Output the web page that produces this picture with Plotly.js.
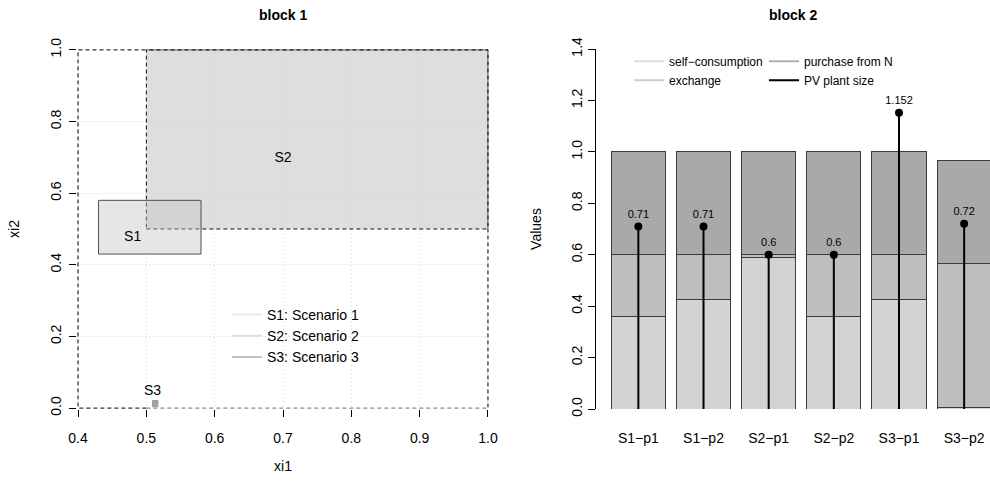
<!DOCTYPE html>
<html>
<head>
<meta charset="utf-8">
<script src="https://cdn.plot.ly/plotly-3.0.1.min.js"></script>
<style>
html,body{margin:0;padding:0;background:#fff;overflow:hidden;}
#chart{width:990px;height:482px;}
</style>
</head>
<body>
<div id="chart"></div>
<script>
// ---------- block 1 data ----------
const scenarioNames = ['S1', 'S2', 'S3'];
const scenarioLegend = ['S1: Scenario 1', 'S2: Scenario 2', 'S3: Scenario 3'];
const rectX0 = [0.43, 0.50, 0.509];
const rectX1 = [0.58, 1.00, 0.517];
const rectY0 = [0.43, 0.50, 0.004];
const rectY1 = [0.58, 1.00, 0.021];
const labelX = [0.48, 0.70, 0.509];
const labelY = [0.477, 0.696, 0.047];
const domainX = [0.4, 1.0];
const domainY = [0.0, 1.0];
const xTicks1 = [0.4, 0.5, 0.6, 0.7, 0.8, 0.9, 1.0];
const yTicks1 = [0.0, 0.2, 0.4, 0.6, 0.8, 1.0];

// ---------- block 2 data ----------
const barLabels = ['S1\u2212p1', 'S1\u2212p2', 'S2\u2212p1', 'S2\u2212p2', 'S3\u2212p1', 'S3\u2212p2'];
const selfConsumption = [0.36, 0.425, 0.59, 0.36, 0.425, 0.005];
const exchange = [0.24, 0.175, 0.01, 0.24, 0.175, 0.562];
const purchaseFromN = [0.40, 0.40, 0.40, 0.40, 0.40, 0.398];
const pvPlantSize = [0.71, 0.71, 0.6, 0.6, 1.152, 0.72];
const yTicks2 = [0.0, 0.2, 0.4, 0.6, 0.8, 1.0, 1.2, 1.4];

// styles
const FONT = 'Liberation Sans, Arial, Helvetica, sans-serif';
const fillS = ['rgba(196,196,196,0.42)', 'rgba(200,200,200,0.6)', '#a5a5a5'];
const lineS = ['#505050', '#111111', '#9a9a9a'];
const dashS = ['solid', '4px,3px', 'solid'];
const legColS = ['#ebebeb', '#e0e0e0', '#c2c2c2'];
const segColors = ['#d3d3d3', '#bebebe', '#a9a9a9'];
const legSegColors = ['#e0e0e0', '#cdcdcd', '#b0b0b0'];

const traces = [];

// rectangles (draw S2 first, then S1, then S3)
[1, 0, 2].forEach(i => {
  traces.push({
    type: 'scatter', mode: 'lines', xaxis: 'x', yaxis: 'y',
    x: [rectX0[i], rectX1[i], rectX1[i], rectX0[i], rectX0[i]],
    y: [rectY0[i], rectY0[i], rectY1[i], rectY1[i], rectY0[i]],
    fill: 'toself', fillcolor: fillS[i],
    line: {color: lineS[i], width: 1, dash: dashS[i]},
    showlegend: false, hoverinfo: 'skip'
  });
});

// dashed frame of the domain
traces.push({
  type: 'scatter', mode: 'lines', xaxis: 'x', yaxis: 'y',
  x: [rectX0[1], domainX[0], domainX[0], domainX[1], domainX[1]],
  y: [domainY[0], domainY[0], domainY[1], domainY[1], domainY[0]],
  line: {color: '#000000', width: 1, dash: '4px,3px'},
  showlegend: false, hoverinfo: 'skip'
});
traces.push({
  type: 'scatter', mode: 'lines', xaxis: 'x', yaxis: 'y',
  x: [rectX0[1], domainX[1]],
  y: [domainY[0], domainY[0]],
  line: {color: '#6e6e6e', width: 1, dash: '4px,3px'},
  showlegend: false, hoverinfo: 'skip'
});

// scenario labels
traces.push({
  type: 'scatter', mode: 'text', xaxis: 'x', yaxis: 'y',
  x: labelX, y: labelY, text: scenarioNames,
  textfont: {family: FONT, size: 14, color: '#000'},
  textposition: 'middle center', showlegend: false, hoverinfo: 'skip'
});

// block 1 legend entries
scenarioLegend.forEach((name, i) => {
  traces.push({
    type: 'scatter', mode: 'lines', xaxis: 'x', yaxis: 'y',
    x: [null], y: [null], name: name, legend: 'legend3',
    line: {color: legColS[i], width: 2}, showlegend: true
  });
});

// ---------- block 2 ----------
const barCenters = barLabels.map((_, i) => 0.7 + 1.2 * i);
[selfConsumption, exchange, purchaseFromN].forEach((vals, k) => {
  traces.push({
    type: 'bar', xaxis: 'x2', yaxis: 'y2',
    x: barCenters, y: vals, width: 1,
    marker: {color: segColors[k], line: {color: '#3c3c3c', width: 1}},
    showlegend: false, hoverinfo: 'skip'
  });
});

// stems
const stemX = [], stemY = [];
barCenters.forEach((c, i) => { stemX.push(c, c, null); stemY.push(0, pvPlantSize[i], null); });
traces.push({
  type: 'scatter', mode: 'lines', xaxis: 'x2', yaxis: 'y2',
  x: stemX, y: stemY, line: {color: '#000', width: 2},
  showlegend: false, hoverinfo: 'skip'
});
traces.push({
  type: 'scatter', mode: 'markers+text', xaxis: 'x2', yaxis: 'y2',
  x: barCenters, y: pvPlantSize, text: pvPlantSize.map(v => String(v)),
  textposition: 'top center',
  textfont: {family: FONT, size: 11, color: '#000'},
  marker: {color: '#000', size: 8},
  showlegend: false, hoverinfo: 'skip'
});

// block 2 legend entries (two columns)
const leg2Names = ['self\u2212consumption', 'exchange', 'purchase from N', 'PV plant size'];
const leg2Colors = [legSegColors[0], legSegColors[1], legSegColors[2], '#000000'];
const leg2Which = ['legend', 'legend', 'legend2', 'legend2'];
leg2Names.forEach((name, i) => {
  traces.push({
    type: 'scatter', mode: 'lines', xaxis: 'x2', yaxis: 'y2',
    x: [null], y: [null], name: name, legend: leg2Which[i],
    line: {color: leg2Colors[i], width: 2}, showlegend: true
  });
});

const W = 990, H = 482, T = 49, B = 73;
const px = v => v / W;
const py = v => (H - B - v) / (H - T - B);

const axisCommon = {
  ticks: 'outside', ticklen: 7, tickwidth: 1, tickcolor: '#000',
  tickfont: {family: FONT, size: 14, color: '#000'},
  zeroline: false, automargin: false, fixedrange: true
};

const legendCommon = {
  xanchor: 'left', yanchor: 'middle', traceorder: 'normal',
  bgcolor: 'rgba(0,0,0,0)', borderwidth: 0, tracegroupgap: 0
};

const layout = {
  width: W, height: H,
  margin: {l: 0, r: 0, t: T, b: B, pad: 0},
  paper_bgcolor: '#fff', plot_bgcolor: '#fff',
  barmode: 'stack', bargap: 0,
  font: {family: FONT, size: 14, color: '#000'},
  showlegend: true,
  xaxis: Object.assign({}, axisCommon, {
    domain: [px(77), px(489)], range: [domainX[0] - 0.0015, domainX[1] + 0.0015], anchor: 'y',
    tickvals: xTicks1, tickformat: '.1f', ticklabelstandoff: 9,
    showgrid: true, gridcolor: '#d4d4d4', griddash: '1px,3px', gridwidth: 1,
    showline: false,
    title: {text: 'xi1', font: {family: FONT, size: 14}, standoff: 16}
  }),
  yaxis: Object.assign({}, axisCommon, {
    domain: [0, 1], range: [domainY[0] - 0.0025, domainY[1] + 0.0025], anchor: 'x',
    tickvals: yTicks1, tickformat: '.1f', tickangle: -90, ticklabelstandoff: 2,
    showgrid: true, gridcolor: '#d4d4d4', griddash: '1px,3px', gridwidth: 1,
    showline: false,
    title: {text: 'xi2', font: {family: FONT, size: 14}, standoff: 25}
  }),
  xaxis2: Object.assign({}, axisCommon, {
    domain: [px(596), 1], range: [-0.08, 7.176], anchor: 'y2',
    tickvals: barCenters, ticktext: barLabels, ticks: '', ticklabelstandoff: 19,
    showgrid: false, showline: false
  }),
  yaxis2: Object.assign({}, axisCommon, {
    domain: [0, 1], range: [0, 1.4], anchor: 'x2',
    tickvals: yTicks2, tickformat: '.1f', tickangle: -90,
    showgrid: false, showline: true, linecolor: '#000', linewidth: 1,
    title: {text: 'Values', font: {family: FONT, size: 14}, standoff: 24}
  }),
  legend: Object.assign({}, legendCommon, {
    x: px(629), y: py(70.7),
    font: {family: FONT, size: 12, color: '#000'}
  }),
  legend2: Object.assign({}, legendCommon, {
    x: px(764), y: py(70.7),
    font: {family: FONT, size: 12, color: '#000'}
  }),
  legend3: Object.assign({}, legendCommon, {
    x: px(227), y: py(336),
    font: {family: FONT, size: 14, color: '#000'}
  }),
  annotations: [
    {text: '<b>block 1</b>', xref: 'paper', yref: 'paper', x: px(283), y: py(15),
     xanchor: 'center', yanchor: 'middle', showarrow: false,
     font: {family: FONT, size: 14, color: '#000'}},
    {text: '<b>block 2</b>', xref: 'paper', yref: 'paper', x: px(793), y: py(15),
     xanchor: 'center', yanchor: 'middle', showarrow: false,
     font: {family: FONT, size: 14, color: '#000'}}
  ]
};

Plotly.newPlot('chart', traces, layout, {displayModeBar: false, staticPlot: true});
</script>
</body>
</html>
